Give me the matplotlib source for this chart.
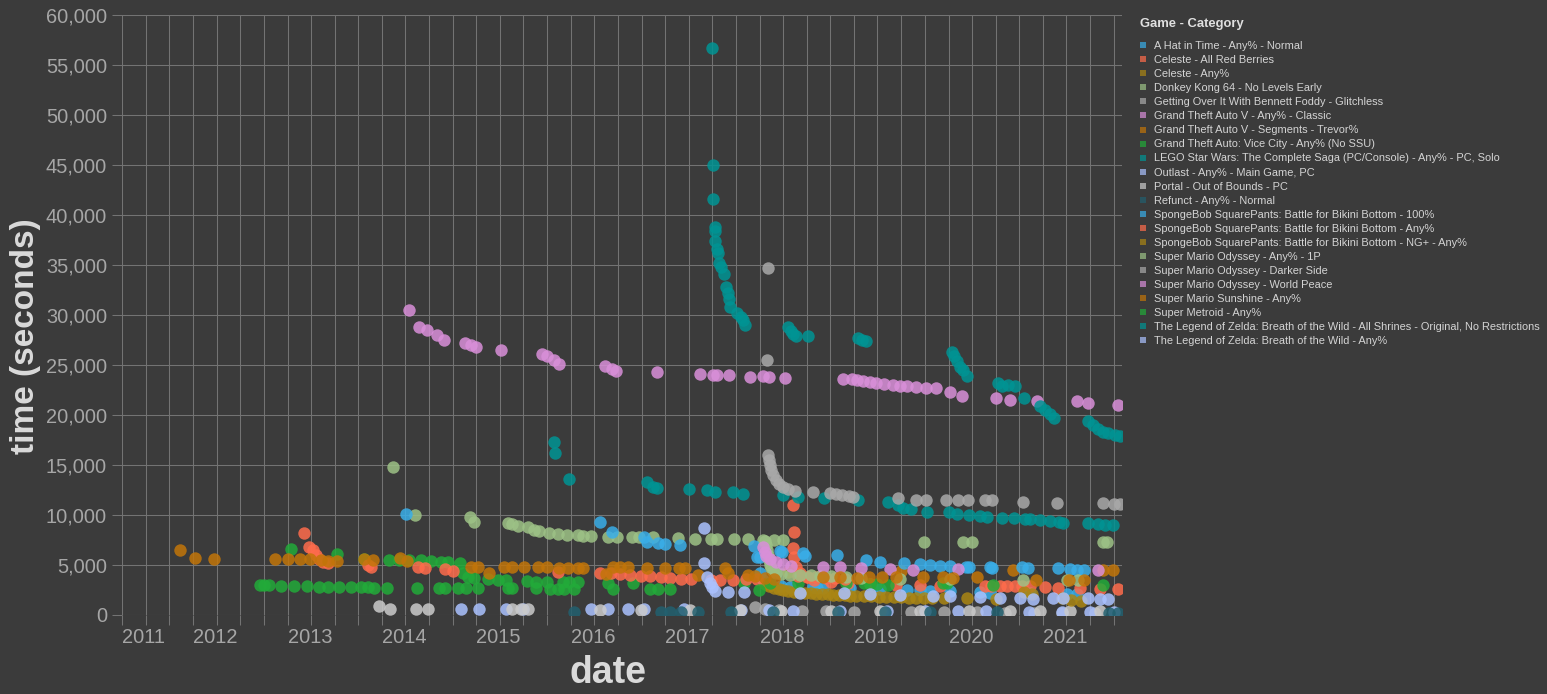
import numpy as np
import pandas as pd
import matplotlib
matplotlib.use("Agg")
import matplotlib.pyplot as plt
from matplotlib.lines import Line2D

plt.rcParams['font.family'] = ['Liberation Sans', 'DejaVu Sans']

# ---------------- data (x = decimal year, y = seconds) ----------------
hat_yr = [2017.97, 2018.00, 2018.03, 2018.11, 2018.22, 2018.32, 2018.56, 2018.61, 2018.67, 2018.96,
          2019.27, 2019.56, 2019.70, 2019.80, 2020.02, 2020.33, 2020.44, 2020.86, 2021.25, 2021.36]
hat_s = [5800, 4200, 3500, 3200, 2900, 2800, 2800, 2700, 2700, 2700,
         2600, 2500, 2500, 2400, 2400, 2300, 2200, 2200, 2100, 2100]

celeste_arb_yr = [2018.35, 2018.36, 2018.35, 2018.36, 2018.38, 2018.43, 2018.51, 2018.57, 2018.75, 2018.93,
                  2019.17, 2019.44, 2019.70, 2019.91, 2020.38, 2020.45, 2020.54, 2020.62, 2020.70, 2020.78,
                  2020.86, 2021.02, 2021.16, 2021.39, 2021.60, 2021.79]
celeste_arb_s = [11000, 8300, 6700, 5800, 4800, 4200, 3800, 3500, 3300, 3200,
                 3100, 3000, 3000, 2900, 2900, 2900, 2900, 2900, 2900, 2900,
                 2900, 2800, 2700, 2700, 2600, 2600]

celeste_any_yr = [2018.05, 2018.10, 2018.15, 2018.20, 2018.25, 2018.30, 2018.36, 2018.42, 2018.48, 2018.54,
                  2018.60, 2018.66, 2018.72, 2018.78, 2018.84, 2018.90, 2018.96, 2019.02, 2019.10, 2019.18,
                  2019.26, 2019.34, 2019.42, 2019.50, 2019.58, 2019.66, 2019.74, 2019.82]
celeste_any_s = [3100, 2900, 2700, 2600, 2500, 2400, 2350, 2300, 2250, 2200,
                 2150, 2100, 2100, 2050, 2000, 2000, 1950, 1950, 1900, 1900,
                 1850, 1850, 1800, 1800, 1750, 1750, 1700, 1700]

dk64_yr = [2014.12, 2014.35, 2014.93, 2014.97, 2015.33, 2015.38, 2015.44, 2015.55, 2015.61, 2015.66,
           2015.77, 2015.86, 2015.96, 2016.08, 2016.13, 2016.21, 2016.39, 2016.49, 2016.65, 2016.72,
           2016.87, 2017.13, 2017.31, 2017.48, 2017.55, 2017.73, 2017.87, 2018.03, 2018.15, 2018.25,
           2019.74, 2020.15, 2020.25, 2021.63, 2021.68]
dk64_s = [14800, 10000, 9800, 9300, 9200, 9100, 8900, 8800, 8500, 8400,
          8200, 8100, 8000, 8000, 7900, 7900, 7800, 7800, 7800, 7800,
          7800, 7700, 7600, 7600, 7600, 7600, 7600, 7500, 7500, 7500,
          7300, 7300, 7300, 7300, 7300]

goi_yr = [2017.95, 2018.05, 2018.20, 2018.45, 2018.70, 2019.00, 2019.30, 2019.60, 2019.95, 2020.30,
          2020.60, 2020.90, 2021.20, 2021.55]
goi_s = [800, 600, 500, 450, 400, 350, 350, 300, 300, 300, 250, 250, 250, 200]

gta_classic_yr = [2014.28, 2014.39, 2014.48, 2014.58, 2014.66, 2014.88, 2014.94, 2015.00, 2015.26, 2015.69,
                  2015.75, 2015.82, 2015.87, 2016.36, 2016.44, 2016.48, 2016.91, 2017.37, 2017.50, 2017.55,
                  2017.67, 2017.90, 2018.03, 2018.10, 2018.27, 2018.88, 2018.98, 2019.03, 2019.09, 2019.17,
                  2019.23, 2019.32, 2019.41, 2019.49, 2019.56, 2019.66, 2019.76, 2019.87, 2020.02, 2020.14,
                  2020.50, 2020.65, 2020.94, 2021.36, 2021.48, 2021.79]
gta_classic_s = [30500, 28800, 28500, 28000, 27500, 27200, 27000, 26800, 26500, 26100,
                 25900, 25500, 25100, 24900, 24600, 24400, 24300, 24100, 24000, 24000,
                 24000, 23800, 23900, 23800, 23700, 23600, 23600, 23500, 23400, 23300,
                 23200, 23100, 23000, 22900, 22900, 22800, 22700, 22700, 22300, 21900,
                 21700, 21500, 21400, 21400, 21200, 21000]

gta_trevor_yr = [2018.30, 2019.50, 2020.68, 2021.63, 2021.74]
gta_trevor_s = [4300, 4400, 4500, 4500, 4500]

vice_city_yr = [2013.04, 2013.52, 2013.81, 2014.07, 2014.18, 2014.28, 2014.41, 2014.52, 2014.62, 2014.70,
                2014.83, 2014.86, 2014.91, 2014.97, 2015.12, 2015.23, 2015.31, 2015.54, 2015.63, 2015.75,
                2015.92, 2015.98, 2016.08, 2016.39, 2016.66, 2017.83, 2018.11, 2018.40, 2018.91, 2019.10,
                2019.17, 2019.24, 2019.36, 2019.94, 2019.98, 2020.47, 2021.63]
vice_city_s = [6600, 6100, 5600, 5500, 5500, 5500, 5500, 5400, 5300, 5300,
               5200, 4200, 3800, 3700, 3600, 3500, 3500, 3400, 3300, 3300,
               3300, 3300, 3300, 3200, 3200, 3200, 3200, 3200, 3200, 3200,
               3100, 3100, 3000, 3200, 3200, 3000, 3000]

lego_yr = [2015.82, 2015.83, 2015.98, 2016.80, 2016.87, 2016.91, 2017.25, 2017.44, 2017.53, 2017.72,
           2017.82, 2018.25, 2018.40, 2018.68, 2019.04, 2019.36, 2019.46, 2019.52, 2019.60, 2019.77,
           2020.00, 2020.09, 2020.22, 2020.33, 2020.41, 2020.56, 2020.69, 2020.81, 2020.86, 2020.97,
           2021.07, 2021.17, 2021.21, 2021.47, 2021.58, 2021.66, 2021.74]
lego_s = [17300, 16200, 13600, 13300, 12800, 12700, 12600, 12500, 12300, 12300,
          12100, 12000, 11800, 11700, 11500, 11300, 11000, 10700, 10600, 10300,
          10300, 10100, 10000, 9900, 9800, 9700, 9700, 9600, 9600, 9500,
          9400, 9300, 9200, 9200, 9100, 9000, 9000]

outlast_yr = [2014.84, 2015.03, 2015.31, 2015.49, 2016.21, 2016.39, 2016.60, 2016.77, 2017.20, 2017.80,
              2018.10, 2018.35, 2018.85, 2019.35, 2019.75, 2020.10, 2020.40, 2020.85, 2021.20, 2021.50,
              2021.75]
outlast_s = [600, 600, 600, 600, 600, 600, 600, 600, 600, 500,
             500, 450, 450, 400, 400, 400, 400, 350, 350, 350,
             300]

portal_yr = [2013.97, 2014.08, 2014.36, 2014.49, 2015.38, 2015.47, 2015.55, 2016.31, 2016.74, 2017.26,
             2017.79, 2018.22, 2018.75, 2019.27, 2019.70, 2020.22, 2020.65, 2020.97, 2021.28, 2021.60]
portal_s = [900, 600, 600, 600, 600, 600, 600, 500, 500, 500,
            500, 400, 400, 400, 400, 400, 400, 400, 400, 400]

refunct_yr = [2016.03, 2016.95, 2017.05, 2017.16, 2017.34, 2017.69, 2018.14, 2018.83, 2019.33, 2019.80,
              2020.51, 2021.70, 2021.79]
refunct_s = [300, 300, 300, 300, 300, 300, 300, 300, 300, 300, 300, 200, 200]

sb100_yr = [2014.25, 2016.31, 2016.44, 2016.77, 2016.81, 2016.92, 2017.00, 2017.15, 2017.94, 2018.00,
            2018.21, 2018.24, 2018.46, 2018.48, 2018.82, 2019.13, 2019.27, 2019.53, 2019.70, 2019.80,
            2019.91, 2020.02, 2020.18, 2020.22, 2020.44, 2020.46, 2020.78, 2020.84, 2021.16, 2021.28,
            2021.36, 2021.43]
sb100_s = [10100, 9300, 8300, 7800, 7300, 7200, 7100, 7000, 6900, 5800,
           6400, 6300, 6200, 5900, 6000, 5500, 5300, 5200, 5100, 5000,
           4900, 4900, 4800, 4800, 4800, 4700, 4800, 4700, 4700, 4600,
           4500, 4500]

sb_any_yr = [2013.17, 2013.23, 2013.27, 2013.30, 2013.33, 2013.37, 2013.43, 2013.85, 2013.88, 2014.38,
             2014.46, 2014.67, 2014.75, 2015.86, 2016.31, 2016.42, 2016.52, 2016.63, 2016.74, 2016.84,
             2016.95, 2017.05, 2017.16, 2017.27, 2017.48, 2017.58, 2017.72, 2017.85, 2017.97, 2018.40,
             2018.50, 2018.60, 2018.70, 2018.80, 2018.90]
sb_any_s = [8200, 6800, 6500, 6000, 5600, 5300, 5200, 5000, 4800, 4800,
            4700, 4600, 4400, 4300, 4200, 4200, 4100, 4000, 3900, 3900,
            3800, 3700, 3600, 3600, 3500, 3500, 3500, 3600, 3600, 3900,
            3800, 3800, 3700, 3700, 3600]

sb_ngp_yr = [2019.95, 2020.20, 2020.50, 2020.80, 2020.88, 2021.20, 2021.30, 2021.40]
sb_ngp_s = [1700, 1700, 1600, 2300, 2100, 1700, 1500, 1400]

smo_1p_yr = [2018.05, 2018.07, 2018.08, 2018.09, 2018.10, 2018.11, 2018.12, 2018.14, 2018.17, 2018.22,
             2018.32, 2018.43, 2018.54, 2018.64, 2018.75, 2018.91, 2019.07, 2019.49, 2020.02, 2020.79,
             2021.25, 2021.37]
smo_1p_s = [7400, 7000, 6500, 6000, 5500, 5000, 4700, 4400, 4200, 4100,
            4000, 4000, 4000, 3900, 3900, 3800, 3700, 3600, 3600, 3500,
            3500, 3500]

smo_darker_yr = [2018.09, 2018.08, 2018.09, 2018.10, 2018.11, 2018.12, 2018.14, 2018.17, 2018.20, 2018.25,
                 2018.30, 2018.37, 2018.56, 2018.74, 2018.81, 2018.87, 2018.94, 2018.99, 2019.46, 2019.65,
                 2019.76, 2019.97, 2020.10, 2020.21, 2020.38, 2020.46, 2020.79, 2021.15, 2021.63, 2021.75,
                 2021.81]
smo_darker_s = [34700, 25500, 16000, 15500, 15000, 14500, 14000, 13500, 13100, 12800,
                12600, 12400, 12300, 12200, 12100, 12000, 11900, 11800, 11700, 11500,
                11500, 11500, 11500, 11500, 11500, 11500, 11300, 11200, 11200, 11100,
                11100]

smo_wp_yr = [2018.03, 2018.05, 2018.07, 2018.11, 2018.17, 2018.25, 2018.33, 2018.67, 2018.85, 2019.07,
             2019.38, 2019.62, 2020.10, 2021.58]
smo_wp_s = [6800, 6300, 5900, 5600, 5300, 5100, 4900, 4800, 4800, 4700,
            4600, 4500, 4600, 4500]

sunshine_yr = [2011.86, 2012.02, 2012.22, 2012.87, 2013.00, 2013.13, 2013.24, 2013.35, 2013.43, 2013.52,
               2013.81, 2013.90, 2014.19, 2014.26, 2014.94, 2015.02, 2015.13, 2015.29, 2015.38, 2015.50,
               2015.65, 2015.75, 2015.87, 2015.97, 2016.08, 2016.13, 2016.37, 2016.45, 2016.52, 2016.60,
               2016.81, 2017.00, 2017.14, 2017.21, 2017.34, 2017.63, 2017.66, 2017.87, 2017.95, 2018.05,
               2018.15, 2018.67, 2018.85, 2019.03, 2019.16, 2019.29, 2019.44, 2019.73, 2019.94, 2020.05,
               2020.30, 2020.92, 2021.27, 2021.43]
sunshine_s = [6500, 5700, 5600, 5600, 5600, 5600, 5600, 5500, 5400, 5400,
              5600, 5500, 5700, 5400, 4800, 4800, 4200, 4800, 4800, 4800,
              4800, 4800, 4700, 4700, 4700, 4700, 4100, 4800, 4800, 4800,
              4700, 4700, 4700, 4700, 4000, 4700, 4200, 4000, 3900, 3700,
              3600, 3800, 3800, 3700, 3800, 3800, 3800, 3800, 3800, 3700,
              3800, 3500, 3500, 3500]

metroid_yr = [2012.71, 2012.75, 2012.80, 2012.93, 2013.07, 2013.20, 2013.33, 2013.43, 2013.54, 2013.67,
              2013.78, 2013.85, 2013.91, 2014.05, 2014.37, 2014.60, 2014.67, 2014.80, 2014.89, 2015.02,
              2015.33, 2015.38, 2015.63, 2015.78, 2015.86, 2015.93, 2016.03, 2016.45, 2016.84, 2016.92,
              2017.05, 2017.99]
metroid_s = [3000, 3000, 3000, 2900, 2900, 2900, 2800, 2800, 2800, 2800,
             2800, 2800, 2700, 2700, 2700, 2700, 2700, 2700, 2700, 2700,
             2700, 2700, 2700, 2600, 2600, 2600, 2600, 2600, 2600, 2600,
             2600, 2500]

zelda_shrines_yr = [2017.49, 2017.50, 2017.50, 2017.52, 2017.53, 2017.53, 2017.55, 2017.56, 2017.57, 2017.59,
                    2017.62, 2017.64, 2017.66, 2017.67, 2017.68, 2017.76, 2017.80, 2017.82, 2017.84, 2018.30,
                    2018.33, 2018.35, 2018.38, 2018.51, 2019.04, 2019.08, 2019.12, 2020.04, 2020.06, 2020.09,
                    2020.12, 2020.15, 2020.19, 2020.52, 2020.57, 2020.63, 2020.70, 2020.80, 2020.97, 2021.02,
                    2021.07, 2021.11, 2021.48, 2021.53, 2021.58, 2021.63, 2021.69, 2021.76, 2021.81]
zelda_shrines_s = [56700, 45000, 41600, 38800, 38400, 37400, 36600, 36200, 35200, 34800,
                   34100, 32800, 32200, 31600, 30800, 30200, 29800, 29500, 29000, 28800,
                   28400, 28100, 27900, 27900, 27700, 27500, 27400, 26300, 25900, 25400,
                   24800, 24500, 23900, 23200, 22900, 23000, 22900, 21700, 20900, 20500,
                   20100, 19700, 19400, 19000, 18600, 18300, 18200, 18000, 17900]

zelda_any_yr = [2017.41, 2017.41, 2017.44, 2017.47, 2017.49, 2017.53, 2017.66, 2017.83, 2018.43, 2018.89,
                2019.17, 2019.49, 2019.84, 2020.02, 2020.33, 2020.54, 2020.76, 2020.89, 2021.10, 2021.21,
                2021.47, 2021.60, 2021.69]
zelda_any_s = [8700, 5200, 3800, 3200, 2800, 2400, 2300, 2300, 2200, 2200,
               2100, 2000, 1900, 1900, 1800, 1700, 1700, 1600, 1700, 1700,
               1700, 1600, 1600]

category_labels = [
    "A Hat in Time - Any% - Normal",
    "Celeste - All Red Berries",
    "Celeste - Any%",
    "Donkey Kong 64 - No Levels Early",
    "Getting Over It With Bennett Foddy - Glitchless",
    "Grand Theft Auto V - Any% - Classic",
    "Grand Theft Auto V - Segments - Trevor%",
    "Grand Theft Auto: Vice City - Any% (No SSU)",
    "LEGO Star Wars: The Complete Saga (PC/Console) - Any% - PC, Solo",
    "Outlast - Any% - Main Game, PC",
    "Portal - Out of Bounds - PC",
    "Refunct - Any% - Normal",
    "SpongeBob SquarePants: Battle for Bikini Bottom - 100%",
    "SpongeBob SquarePants: Battle for Bikini Bottom - Any%",
    "SpongeBob SquarePants: Battle for Bikini Bottom - NG+ - Any%",
    "Super Mario Odyssey - Any% - 1P",
    "Super Mario Odyssey - Darker Side",
    "Super Mario Odyssey - World Peace",
    "Super Mario Sunshine - Any%",
    "Super Metroid - Any%",
    "The Legend of Zelda: Breath of the Wild - All Shrines - Original, No Restrictions",
    "The Legend of Zelda: Breath of the Wild - Any%",
]
series_years = [hat_yr, celeste_arb_yr, celeste_any_yr, dk64_yr, goi_yr, gta_classic_yr, gta_trevor_yr,
                vice_city_yr, lego_yr, outlast_yr, portal_yr, refunct_yr, sb100_yr, sb_any_yr, sb_ngp_yr,
                smo_1p_yr, smo_darker_yr, smo_wp_yr, sunshine_yr, metroid_yr, zelda_shrines_yr, zelda_any_yr]
series_secs = [hat_s, celeste_arb_s, celeste_any_s, dk64_s, goi_s, gta_classic_s, gta_trevor_s,
               vice_city_s, lego_s, outlast_s, portal_s, refunct_s, sb100_s, sb_any_s, sb_ngp_s,
               smo_1p_s, smo_darker_s, smo_wp_s, sunshine_s, metroid_s, zelda_shrines_s, zelda_any_s]

palette = ['#39aee9', '#ff6c4c', '#ab8614', '#9dc286', '#a9a9a9', '#d98fd9',
           '#c27509', '#22ab39', '#009494', '#abc2ff', '#cbcbcb', '#22606f']

x_start, x_end = 2011.258, 2021.830
y_ticks = list(range(0, 60001, 5000))

# ---------------- styling ----------------
BG = '#3b3b3b'
GRID = '#737373'
TICKC = '#a6a6a6'
TITLEC = '#dadada'
LEGC = '#d4d4d4'


def to_dates(years):
    out = []
    for y in years:
        yi = int(np.floor(y))
        a = pd.Timestamp(year=yi, month=1, day=1)
        b = pd.Timestamp(year=yi + 1, month=1, day=1)
        out.append(a + (b - a) * (y - yi))
    return out


W, H = 1547, 694
fig = plt.figure(figsize=(W / 100, H / 100), dpi=100, facecolor=BG)
ax = fig.add_axes([122 / W, 79 / H, 999.5 / W, 600 / H])
ax.set_facecolor(BG)

for i, (yrs, secs) in enumerate(zip(series_years, series_secs)):
    ax.scatter(to_dates(yrs), secs, s=80, color=palette[i % len(palette)],
               alpha=0.85, linewidths=0, zorder=3)

ax.set_xlim(to_dates([x_start, x_end]))
ax.set_ylim(0, 60000)
ax.set_yticks(y_ticks)
ax.set_yticklabels([f"{v:,}" for v in y_ticks])

qticks = pd.date_range('2011-04-01', '2021-10-01', freq='QS')
ax.set_xticks(qticks)
xl = []
for k, d in enumerate(qticks):
    if k == 0 or d.month == 1:
        xl.append(str(d.year))
    else:
        xl.append('')
ax.set_xticklabels(xl)
for t in ax.get_xticklabels():
    t.set_horizontalalignment('left')

ax.grid(True, color=GRID, linewidth=0.75, zorder=0)
ax.set_axisbelow(True)
for sp in ax.spines.values():
    sp.set_visible(False)
ax.tick_params(axis='both', direction='out', length=7.2, width=0.75, color=GRID,
               labelcolor=TICKC, labelsize=14.4)
ax.tick_params(axis='x', pad=2)
ax.tick_params(axis='y', pad=3.6)

ax.set_xlabel('date', fontsize=27, fontweight='bold', color=TITLEC, va='center')
ax.xaxis.set_label_coords((608 - 122) / 999.5, -0.097)
ax.set_ylabel('time (seconds)', fontsize=24, fontweight='bold', color=TITLEC, va='center')
ax.yaxis.set_label_coords(-0.097, 0.465)

fig.text(1140 / W, 1 - 27 / H, 'Game - Category', fontsize=9.4, fontweight='bold',
         color='#e0e0e0', ha='left', va='baseline')
handles = [Line2D([], [], linestyle='none', marker='s', markersize=4.6,
                  markerfacecolor=palette[i % len(palette)], markeredgewidth=0, alpha=0.7)
           for i in range(len(category_labels))]
leg = fig.legend(handles, category_labels, loc='upper left',
                 bbox_to_anchor=(1138 / W, 1 - 41 / H), frameon=False,
                 fontsize=7.9, labelcolor=LEGC,
                 borderpad=0, borderaxespad=0,
                 handlelength=0.9, handletextpad=0.6, labelspacing=0.37)

fig.savefig('out.png', dpi=100, facecolor=BG)
